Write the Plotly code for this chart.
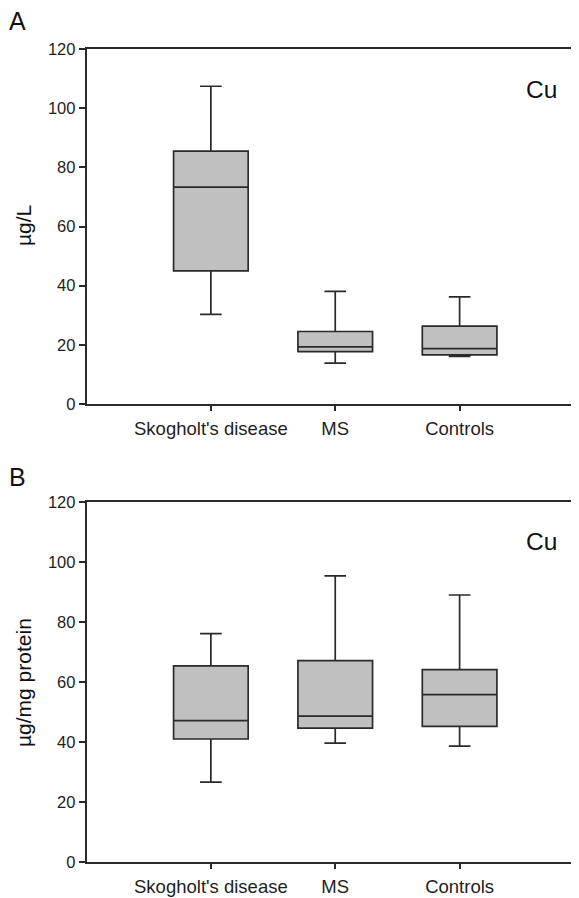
import plotly.graph_objects as go
from plotly.subplots import make_subplots

categories = ["Skogholt's disease", "MS", "Controls"]

# Panel A: Cu, µg/L
a_low = [30.3, 13.8, 16.1]
a_q1 = [45.0, 17.7, 16.6]
a_med = [73.3, 19.3, 18.7]
a_q3 = [85.5, 24.5, 26.3]
a_high = [107.4, 38.1, 36.2]

# Panel B: Cu, µg/mg protein
b_low = [26.6, 39.6, 38.6]
b_q1 = [41.0, 44.6, 45.2]
b_med = [47.1, 48.6, 55.8]
b_q3 = [65.4, 67.1, 64.1]
b_high = [76.1, 95.4, 89.0]

y_ticks = [0, 20, 40, 60, 80, 100, 120]

# page body has an 8px default margin; lay out in page pixels, offset into figure
OFF = 8
W, H = 579 - OFF, 898 - OFF
FONT = "Liberation Sans, Arial, Helvetica, sans-serif"
LINE = "#2a2a2a"
FILL = "#c0c0c0"

fig = make_subplots(rows=2, cols=1)

def add_box(lo, q1, med, q3, hi, row):
    fig.add_trace(go.Box(
        x=categories, lowerfence=lo, q1=q1, median=med, q3=q3, upperfence=hi,
        fillcolor=FILL, line=dict(color=LINE, width=1.7),
        width=0.6, whiskerwidth=0.29, boxpoints=False, showlegend=False,
        hoverinfo="skip",
    ), row=row, col=1)

add_box(a_low, a_q1, a_med, a_q3, a_high, 1)
add_box(b_low, b_q1, b_med, b_q3, b_high, 2)

def fx(px):
    return (px - OFF) / W

def fy(px):
    return 1 - (px - OFF) / H

x0 = fx(86.5)
domA = [fy(404), fy(49)]
domB = [fy(862), fy(502)]

common_x = dict(
    type="category", range=[-1, 2.96], showline=True, linecolor=LINE,
    linewidth=1.5, mirror=True, ticks="outside", ticklen=5, tickwidth=1.5,
    tickcolor=LINE, showgrid=False, zeroline=False, automargin=False,
    ticklabelstandoff=2,
    tickfont=dict(family=FONT, size=18.5, color="#1e1e1e"),
)
common_y = dict(
    range=[0, 120], tickvals=y_ticks, showline=True, linecolor=LINE, linewidth=1.5,
    ticks="outside", ticklen=6, tickwidth=1.5, tickcolor=LINE, showgrid=False,
    zeroline=False, automargin=False, tickfont=dict(family=FONT, size=16.5, color="#1e1e1e"),
)

fig.update_xaxes(**common_x)
fig.update_yaxes(**common_y)
fig.update_layout(
    xaxis=dict(domain=[x0, 1]), xaxis2=dict(domain=[x0, 1]),
    yaxis=dict(domain=domA), yaxis2=dict(domain=domB),
)

ann = []
def text(x, y, s, size, angle=0):
    ann.append(dict(x=fx(x), y=fy(y), xref="paper", yref="paper", text=s,
                    showarrow=False, textangle=angle,
                    font=dict(family=FONT, size=size, color="#111"),
                    xanchor="center", yanchor="middle"))

text(17.5, 21, "A", 25)
text(17.5, 477, "B", 25)
text(541.7, 89, "Cu", 24.5)
text(541.7, 541.5, "Cu", 24.5)
text(23, 226, "µg/L", 21, -90)
text(23, 683, "µg/mg protein", 21, -90)

fig.update_layout(
    template="none",
    width=W, height=H, margin=dict(l=0, r=0, t=0, b=0),
    paper_bgcolor="white", plot_bgcolor="white",
    annotations=ann, showlegend=False,
)

fig.write_html("out.html")
